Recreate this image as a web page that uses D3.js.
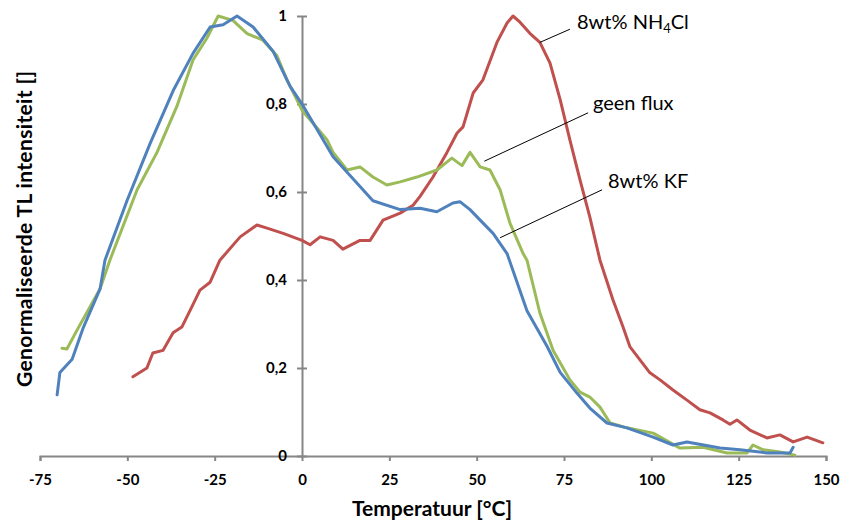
<!DOCTYPE html>
<html>
<head>
<meta charset="utf-8">
<script src="https://cdn.jsdelivr.net/npm/d3@7"></script>
<style>
  body { margin: 0; background: #fff; }
  text { font-family: Lato, "Open Sans", sans-serif; }
</style>
</head>
<body>
<div id="chart"></div>
<script>
// Temperature (°C) and normalised TL intensity
var tempFlux = [-68.7, -67.3, -64.4, -61.3, -57.8, -55.0, -47.2, -41.5, -35.8, -31.2, -27.2, -24.0, -19.8, -15.7, -11.2, -7.2, -4.3, 0, 3.1, 7.2, 8.9, 12.9, 16.6, 20.3, 24.3, 28.1, 32.9, 38.6, 42.9, 45.8, 48.1, 51.0, 53.8, 56.7, 59.5, 63.3, 64.4, 68.1, 71.9, 76.7, 79.6, 82.4, 85.3, 88.2, 93.0, 100.5, 108.2, 114.8, 121.7, 127.4, 129.1, 132.0, 136.8, 141.1];
var valFlux = [0.245, 0.243, 0.286, 0.33, 0.38, 0.445, 0.605, 0.69, 0.795, 0.9, 0.95, 1.0, 0.99, 0.96, 0.945, 0.91, 0.855, 0.786, 0.757, 0.718, 0.69, 0.65, 0.657, 0.634, 0.616, 0.623, 0.634, 0.65, 0.677, 0.66, 0.69, 0.657, 0.65, 0.605, 0.53, 0.46, 0.445, 0.325, 0.24, 0.173, 0.145, 0.134, 0.111, 0.075, 0.064, 0.052, 0.018, 0.02, 0.007, 0.007, 0.025, 0.014, 0.009, 0.002];

var tempKF = [-70.1, -69.3, -65.8, -62.7, -57.8, -56.4, -50.1, -43.5, -36.9, -31.2, -26.3, -22.6, -18.6, -14.0, -8.3, -3.4, 0, 5.2, 8.9, 14.6, 20.3, 28.1, 33.8, 38.6, 43.2, 45.2, 48.1, 51.0, 54.7, 58.7, 64.4, 70.1, 73.9, 78.7, 82.4, 87.3, 93.0, 100.5, 106.2, 110.2, 119.7, 125.4, 133.1, 139.7, 140.6];
var valKF = [0.139, 0.19, 0.22, 0.29, 0.38, 0.445, 0.58, 0.71, 0.83, 0.915, 0.975, 0.98, 1.0, 0.975, 0.92, 0.84, 0.8, 0.73, 0.68, 0.63, 0.58, 0.56, 0.563, 0.555, 0.575, 0.578, 0.56, 0.536, 0.506, 0.46, 0.33, 0.25, 0.19, 0.143, 0.109, 0.075, 0.064, 0.043, 0.025, 0.032, 0.018, 0.014, 0.007, 0.007, 0.02];

var tempNH4Cl = [-48.4, -44.4, -42.7, -39.8, -36.9, -34.4, -32.1, -29.2, -26.3, -23.5, -17.7, -12.9, -10.0, -5.4, 0, 2.3, 5.2, 8.9, 11.7, 16.6, 19.5, 23.2, 28.1, 31.8, 33.8, 37.5, 41.5, 44.4, 46.1, 49.0, 51.8, 55.8, 58.7, 60.4, 62.4, 65.3, 68.1, 71.0, 73.9, 76.7, 79.6, 82.4, 85.3, 89.0, 91.9, 93.9, 96.8, 99.6, 102.5, 106.2, 110.2, 113.9, 116.8, 120.5, 122.5, 124.5, 128.2, 133.1, 136.8, 140.6, 144.6, 149.1];
var valNH4Cl = [0.18, 0.2, 0.234, 0.24, 0.28, 0.293, 0.33, 0.377, 0.395, 0.445, 0.498, 0.525, 0.518, 0.506, 0.49, 0.48, 0.498, 0.49, 0.47, 0.49, 0.49, 0.536, 0.552, 0.57, 0.59, 0.634, 0.69, 0.734, 0.748, 0.825, 0.855, 0.94, 0.984, 1.0, 0.986, 0.96, 0.94, 0.893, 0.81, 0.718, 0.627, 0.543, 0.445, 0.355, 0.293, 0.248, 0.218, 0.189, 0.173, 0.15, 0.127, 0.105, 0.098, 0.082, 0.072, 0.082, 0.059, 0.041, 0.048, 0.032, 0.043, 0.03];

var xTicks = [-75, -50, -25, 0, 25, 50, 75, 100, 125, 150];
var yTicks = [0, 0.2, 0.4, 0.6, 0.8, 1];

var svgWidth = 841;
var svgHeight = 523;

var svg = d3.select("#chart")
  .append("svg")
  .attr("width", svgWidth)
  .attr("height", svgHeight);

var x = d3.scaleLinear().domain([-75, 150]).range([40, 826]);
var y = d3.scaleLinear().domain([0, 1]).range([456, 16]);

var axisColor = "#868686";

// x axis along y = 0
var xAxis = svg.append("g")
  .attr("transform", `translate(0, ${y(0)})`)
  .call(d3.axisBottom(x).tickValues(xTicks).tickSize(5).tickPadding(13)
    .tickFormat(d => String(d)));
xAxis.select(".domain").attr("stroke", axisColor).attr("stroke-width", 2);
xAxis.selectAll(".tick line").attr("stroke", axisColor).attr("stroke-width", 2);
xAxis.selectAll(".tick text")
  .attr("fill", "#000")
  .attr("font-size", 15)
  .attr("font-weight", "bold")
  .attr("font-family", "Lato, sans-serif");

// y axis along x = 0, ticks cross the line
var yAxis = svg.append("g")
  .attr("transform", `translate(${x(0)}, 0)`)
  .call(d3.axisLeft(y).tickValues(yTicks).tickSize(5).tickSizeOuter(0).tickPadding(10)
    .tickFormat(d => d === 0 || d === 1 ? String(d) : d3.format(".1f")(d).replace(".", ",")));
yAxis.select(".domain").attr("stroke", axisColor).attr("stroke-width", 2);
yAxis.selectAll(".tick line")
  .attr("x1", 5)
  .attr("stroke", axisColor).attr("stroke-width", 2);
yAxis.selectAll(".tick text")
  .attr("fill", "#000")
  .attr("font-size", 15)
  .attr("font-weight", "bold")
  .attr("font-family", "Lato, sans-serif");

// the curves
var series = [
  { t: tempNH4Cl, v: valNH4Cl, color: "#C0504D" },
  { t: tempFlux, v: valFlux, color: "#9BBB59" },
  { t: tempKF, v: valKF, color: "#4F81BD" }
];

var line = d3.line()
  .x(d => x(d[0]))
  .y(d => y(d[1]));

series.forEach(function(s) {
  var pts = s.t.map((t, i) => [t, s.v[i]]);
  svg.append("path")
    .datum(pts)
    .attr("fill", "none")
    .attr("stroke", s.color)
    .attr("stroke-width", 3)
    .attr("stroke-linejoin", "round")
    .attr("stroke-linecap", "round")
    .attr("d", line);
});

// callouts
var labels = [
  { name: "NH4Cl", from: [68.1, 0.94], to: [76.7, 0.97], tx: 577, ty: 29 },
  { name: "geen flux", from: [52.2, 0.67], to: [81.9, 0.78], tx: 593, ty: 110 },
  { name: "8wt% KF", from: [56.7, 0.496], to: [85.9, 0.605], tx: 608, ty: 188 }
];

labels.forEach(function(l) {
  svg.append("line")
    .attr("x1", x(l.from[0])).attr("y1", y(l.from[1]))
    .attr("x2", x(l.to[0])).attr("y2", y(l.to[1]))
    .attr("stroke", "#000")
    .attr("stroke-width", 1);
  var t = svg.append("text")
    .attr("x", l.tx)
    .attr("y", l.ty)
    .attr("font-size", 20)
    .attr("fill", "#000");
  if (l.name === "NH4Cl") {
    t.append("tspan").text("8wt% NH");
    t.append("tspan").attr("font-size", 13).attr("dy", 4).text("4");
    t.append("tspan").attr("dy", -4).text("Cl");
  } else {
    t.text(l.name);
  }
});

// axis titles
svg.append("text")
  .attr("x", 432)
  .attr("y", 516)
  .attr("text-anchor", "middle")
  .attr("font-size", 21)
  .attr("font-weight", "bold")
  .text("Temperatuur [°C]");

svg.append("text")
  .attr("transform", "translate(32, 229) rotate(-90)")
  .attr("text-anchor", "middle")
  .attr("font-size", 21)
  .attr("font-weight", "bold")
  .attr("textLength", 316)
  .attr("lengthAdjust", "spacing")
  .text("Genormaliseerde TL intensiteit []");
</script>
</body>
</html>
